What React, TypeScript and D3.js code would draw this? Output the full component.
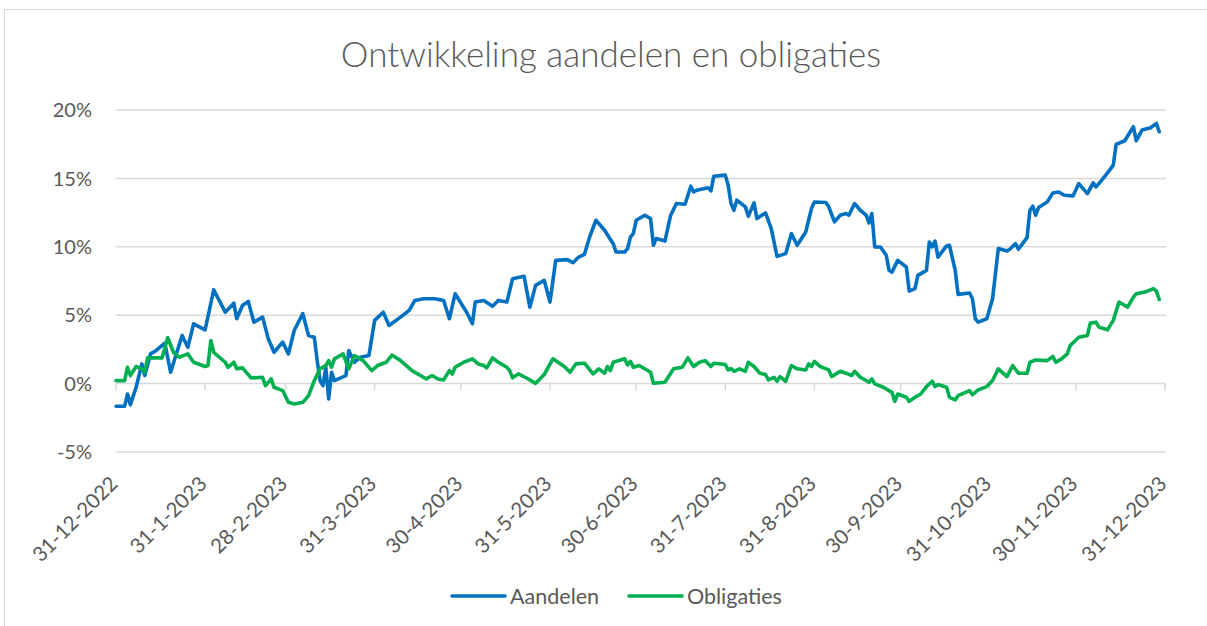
import * as React from "react";
import { scaleLinear, scaleTime, line, timeDay, timeParse, curveLinear } from "d3";

// dagen na 31-12-2022 en rendement in %
const aandelenDagen = [
  0, 3, 4, 5, 7, 9, 10, 12, 14, 17, 19, 23, 25, 27, 31, 34, 38, 41, 42, 44, 46, 48, 51, 53, 55, 58, 60, 62, 65, 67,
  69, 70, 71, 72, 73, 74, 75, 76, 80, 81, 83, 85, 88, 90, 93, 95, 99, 102, 104, 107, 111, 114, 116, 118, 122, 124,
  125, 128, 131, 133, 136, 138, 142, 144, 146, 149, 151, 153, 157, 159, 161, 163, 165, 167, 170, 172, 173, 174, 177,
  178, 179, 180, 181, 184, 186, 187, 188, 191, 193, 195, 198, 200, 201, 202, 206, 207, 208, 212, 213, 214, 215, 216,
  219, 220, 222, 223, 226, 228, 230, 233, 235, 237, 240, 242, 243, 247, 248, 250, 252, 254, 255, 257, 259, 261, 262,
  263, 264, 266, 268, 269, 270, 272, 275, 276, 278, 279, 282, 283, 284, 285, 286, 289, 290, 292, 293, 297, 298, 299,
  300, 303, 305, 307, 310, 311, 313, 314, 317, 318, 319, 320, 321, 324, 326, 328, 330, 333, 335, 338, 340, 341, 343,
  345, 347, 348, 351, 352, 354, 355, 357, 360, 362, 363,
];
const aandelenRendement = [
  -1.66, -1.66, -0.76, -1.54, -0.27, 1.44, 0.59, 2.17, 2.42, 2.95, 0.83, 3.52, 2.66, 4.37, 3.93, 6.86, 5.22, 5.88,
  4.74, 5.71, 6.01, 4.49, 4.86, 3.27, 2.29, 3.03, 2.17, 3.88, 5.11, 3.52, 3.39, 1.68, 0.22, -0.15, 1.19, -1.12, 0.83,
  0.22, 0.59, 2.42, 1.56, 1.93, 2.05, 4.62, 5.22, 4.25, 4.86, 5.35, 6.08, 6.2, 6.2, 6.08, 4.74, 6.57, 5.22, 4.37,
  5.96, 6.08, 5.66, 6.08, 5.96, 7.67, 7.84, 5.59, 7.18, 7.55, 5.96, 9.01, 9.06, 8.84, 9.25, 9.45, 10.84, 11.94,
  11.21, 10.55, 10.23, 9.62, 9.62, 9.87, 10.72, 10.96, 11.94, 12.31, 12.06, 10.11, 10.6, 10.42, 12.31, 13.16, 13.11,
  14.43, 14.01, 14.14, 14.31, 14.09, 15.16, 15.24, 14.5, 13.16, 12.67, 13.41, 12.92, 12.23, 13.21, 12.06, 12.48,
  11.33, 9.3, 9.5, 10.96, 10.11, 11.08, 12.8, 13.28, 13.24, 12.92, 11.82, 12.31, 12.43, 12.31, 13.16, 12.67, 12.31,
  11.74, 12.43, 9.99, 9.99, 9.38, 8.28, 8.15, 9.01, 8.52, 6.76, 6.94, 7.91, 8.28, 10.35, 9.99, 10.42, 9.25, 10.06,
  10.11, 8.28, 6.52, 6.62, 6.2, 4.74, 4.49, 4.74, 6.2, 9.87, 9.69, 9.82, 10.23, 9.82, 10.67, 12.67, 12.97, 12.31,
  12.87, 13.28, 13.94, 14.01, 13.77, 13.72, 14.62, 13.89, 14.67, 14.38, 14.87, 15.41, 15.97, 17.49, 17.75, 18.1,
  18.78, 17.75, 18.53, 18.7, 19.02, 18.41,
];

const obligatiesDagen = [
  0, 3, 4, 5, 7, 9, 10, 11, 16, 18, 20, 22, 25, 27, 31, 32, 33, 34, 38, 39, 41, 42, 44, 47, 51, 52, 54, 55, 58, 60,
  62, 65, 67, 69, 71, 73, 74, 75, 76, 79, 81, 83, 86, 89, 91, 94, 96, 99, 103, 107, 108, 110, 112, 114, 116, 117,
  118, 121, 124, 126, 128, 129, 131, 133, 136, 137, 138, 140, 143, 146, 149, 152, 156, 158, 160, 163, 166, 168, 170,
  171, 172, 173, 177, 178, 179, 180, 182, 186, 187, 191, 194, 197, 199, 201, 203, 205, 207, 208, 212, 213, 214, 215,
  217, 219, 220, 222, 224, 226, 227, 229, 230, 231, 233, 235, 237, 240, 241, 242, 243, 245, 248, 249, 252, 254, 256,
  257, 259, 262, 263, 264, 267, 270, 271, 272, 275, 276, 278, 280, 282, 284, 285, 286, 289, 290, 292, 293, 297, 298,
  300, 303, 305, 307, 310, 312, 314, 317, 318, 320, 324, 326, 327, 329, 331, 332, 335, 338, 339, 341, 342, 345, 347,
  349, 352, 354, 355, 358, 361, 362, 363,
];
const obligatiesRendement = [
  0.22, 0.22, 1.19, 0.59, 1.25, 1.08, 0.83, 1.88, 1.88, 3.35, 2.29, 1.93, 2.17, 1.56, 1.25, 1.32, 3.15, 2.29, 1.56,
  1.19, 1.56, 1.08, 1.15, 0.42, 0.46, -0.15, 0.34, -0.27, -0.51, -1.37, -1.49, -1.37, -0.88, 0.22, 1.08, 1.32, 1.68,
  1.2, 1.81, 2.17, 1.08, 2.05, 1.68, 0.95, 1.32, 1.56, 2.09, 1.68, 0.95, 0.46, 0.35, 0.59, 0.34, 0.27, 0.95, 0.7,
  1.19, 1.56, 1.81, 1.44, 1.32, 1.15, 1.88, 1.56, 1.19, 0.95, 0.42, 0.71, 0.39, 0.02, 0.66, 1.81, 1.25, 0.83, 1.44,
  1.49, 0.71, 1.08, 0.76, 1.25, 0.95, 1.56, 1.81, 1.37, 1.63, 1.19, 1.32, 0.83, 0.02, 0.1, 1.08, 1.19, 1.88, 1.25,
  1.56, 1.68, 1.25, 1.49, 1.39, 1.0, 1.1, 0.9, 1.08, 0.9, 1.56, 1.25, 0.76, 0.66, 0.27, 0.45, 0.17, 0.51, 0.17, 1.32,
  1.08, 1.0, 1.44, 1.25, 1.63, 1.25, 1.0, 0.51, 0.9, 0.76, 0.59, 0.9, 0.46, 0.1, 0.34, -0.02, -0.27, -0.64, -1.3,
  -0.76, -1.0, -1.3, -1.0, -0.76, -0.22, 0.17, -0.22, -0.07, -0.27, -1.0, -1.19, -0.88, -0.51, -0.81, -0.46, -0.22,
  0.22, 1.08, 0.51, 1.32, 0.76, 0.76, 1.56, 1.73, 1.68, 1.98, 1.56, 1.81, 2.17, 2.78, 3.39, 3.52, 4.42, 4.49, 4.13,
  3.93, 4.62, 5.96, 5.59, 6.32, 6.57, 6.69, 6.94, 6.76, 6.15,
];

const maandLabels = [
  "31-12-2022", "31-1-2023", "28-2-2023", "31-3-2023", "30-4-2023", "31-5-2023", "30-6-2023",
  "31-7-2023", "31-8-2023", "30-9-2023", "31-10-2023", "30-11-2023", "31-12-2023",
];
const yTicks = [-5, 0, 5, 10, 15, 20];

const parse = timeParse("%d-%m-%Y");
const start = parse("31-12-2022") as Date;
const font = "Lato, 'Open Sans', sans-serif";
const grijs = "#d9d9d9";
const tekst = "#595959";

const App = () => {
  const x = scaleTime().domain([start, parse("31-12-2023") as Date]).range([116, 1165]);
  const y = scaleLinear().domain([-5, 20]).range([452, 110]);

  const pad = (dagen: number[], waarden: number[]) => {
    const punten = dagen.map((d, i) => [timeDay.offset(start, d), waarden[i]] as [Date, number]);
    return line<[Date, number]>()
      .x((p) => x(p[0]))
      .y((p) => y(p[1]))
      .curve(curveLinear)(punten) as string;
  };

  const series = [
    { naam: "Aandelen", kleur: "#0070C0", d: pad(aandelenDagen, aandelenRendement) },
    { naam: "Obligaties", kleur: "#00B050", d: pad(obligatiesDagen, obligatiesRendement) },
  ];

  return (
    <svg width={1207} height={626} style={{ position: "absolute", left: 0, top: 0, fontFamily: font }}>
      <rect x={0} y={0} width={1207} height={626} fill="white" />
      <rect x={4.5} y={9.5} width={1220} height={640} fill="none" stroke={grijs} />
      <text x={611} y={67} textAnchor="middle" fontSize={35} fontWeight={300} fill={tekst}>
        Ontwikkeling aandelen en obligaties
      </text>
      {yTicks.map((t) => (
        <g key={t}>
          <line x1={116} x2={1166} y1={y(t)} y2={y(t)} stroke={grijs} strokeWidth={1.5} />
          <text x={92} y={y(t)} dy="0.36em" textAnchor="end" fontSize={20} fill={tekst}>
            {t}%
          </text>
        </g>
      ))}
      {maandLabels.map((l) => {
        const xp = x(parse(l) as Date);
        return (
          <g key={l}>
            <line x1={xp} x2={xp} y1={y(0)} y2={y(0) + 7} stroke={grijs} strokeWidth={1.5} />
            <text
              transform={`translate(${xp + 3},485) rotate(-45)`}
              textAnchor="end"
              fontSize={20.5}
              fill={tekst}
            >
              {l}
            </text>
          </g>
        );
      })}
      {series.map((s) => (
        <path key={s.naam} d={s.d} fill="none" stroke={s.kleur} strokeWidth={3.6} strokeLinejoin="round" strokeLinecap="round" />
      ))}
      {series.map((s, i) => {
        const lx = i === 0 ? 452 : 629;
        return (
          <g key={s.naam}>
            <line x1={lx} x2={lx + 53} y1={596} y2={596} stroke={s.kleur} strokeWidth={3.6} strokeLinecap="round" />
            <text x={lx + 58} y={596} dy="0.36em" fontSize={21.5} fill={tekst}>
              {s.naam}
            </text>
          </g>
        );
      })}
    </svg>
  );
};

export default App;
